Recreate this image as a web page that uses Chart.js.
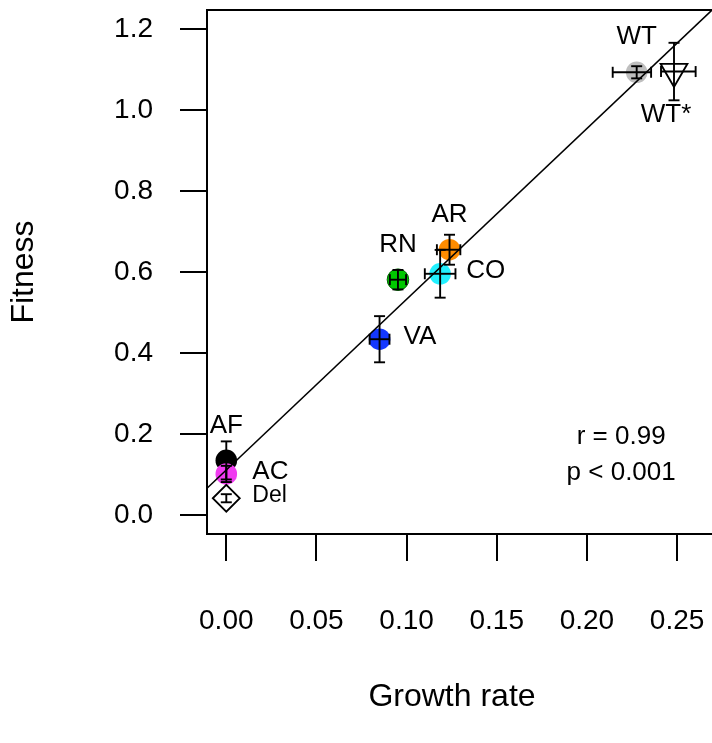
<!DOCTYPE html>
<html>
<head>
<meta charset="utf-8">
<title>Fitness vs growth rate</title>
<script src="https://cdn.jsdelivr.net/npm/chart.js@4.4.1/dist/chart.umd.min.js"></script>
<style>
  html, body { margin: 0; padding: 0; background: #fff; overflow: hidden; }
  #wrap { width: 740px; height: 743px; }
</style>
</head>
<body>
<div id="wrap"><canvas id="chart" width="740" height="743"></canvas></div>
<script>
// Data
const STRAINS = ['WT', 'WT*', 'AR', 'CO', 'RN', 'VA', 'AF', 'AC', 'Del'];
const GROWTH = [0.2276, 0.2483, 0.1238, 0.1186, 0.0952, 0.0850, 0.0, 0.0, 0.0];
const GROWTH_ERR_LO = [0.0133, 0.0072, 0.0070, 0.0085, 0.0045, 0.0055, 0, 0, 0];
const GROWTH_ERR_HI = [0.0080, 0.0120, 0.0060, 0.0085, 0.0045, 0.0055, 0, 0, 0];
const FITNESS = [1.0932, 1.0950, 0.6550, 0.5956, 0.5810, 0.4340, 0.1347, 0.1013, 0.0413];
const FITNESS_ERR = [0.015, 0.071, 0.037, 0.059, 0.024, 0.057, 0.047, 0.020, 0.010];

// Regression line and stats
const FIT_INTERCEPT = 0.1111;
const FIT_SLOPE = 4.216;
const STATS_TEXT = ['r = 0.99', 'p < 0.001'];

// Axes
const X_TICKS = [0, 0.05, 0.10, 0.15, 0.20, 0.25];
const Y_TICKS = [0, 0.2, 0.4, 0.6, 0.8, 1.0, 1.2];
const X_MIN = -0.0107, X_MAX = 0.2727;
const Y_MIN = -0.047, Y_MAX = 1.247;

// Look
const FONT = "'Liberation Sans', Arial, sans-serif";
const COLORS = ['#bebebe', '#ffffff', '#ff8c00', '#22f0ff', '#00c800', '#1438ff', '#000000', '#f03cf0', '#ffffff'];
const SHAPES = ['circle', 'triangle', 'circle', 'circle', 'circle', 'circle', 'circle', 'circle', 'rectRot'];
const SIZES = [10.8, 15.5, 10.8, 10.8, 10.8, 10.8, 10.8, 10.8, 13.5];
const ROTATIONS = [0, 180, 0, 0, 0, 0, 0, 0, 0];
const BORDERS = [0, 1.8, 0, 0, 1, 0, 0, 0, 1.8];
const BORDER_COLORS = ['#000', '#000', '#000', '#000', '#006400', '#000', '#000', '#000', '#000'];
// label placement relative to the point: [dx, dy, align, font size]
const LABEL_POS = [
    [0, -35, 'center', 26], [-8, 43, 'center', 26], [0, -35, 'center', 26],
    [26, -3, 'left', 26], [0, -35, 'center', 26], [24, -2, 'left', 26],
    [0, -35, 'center', 26], [26, -2, 'left', 26], [26, -3, 'left', 23]
];
const CAP = 5.5;

// Barre d'errore orizzontali e verticali
const errorBars = {
    id: 'errorBars',
    afterDatasetsDraw(chart) {
        const { ctx, scales: { x, y } } = chart;
        const seg = (x0, y0, x1, y1) => {
            ctx.beginPath(); ctx.moveTo(x0, y0); ctx.lineTo(x1, y1); ctx.stroke();
        };
        ctx.save();
        ctx.strokeStyle = '#000';
        ctx.lineWidth = 1.9;
        GROWTH.forEach((gx, i) => {
            const px = x.getPixelForValue(gx);
            const py = y.getPixelForValue(FITNESS[i]);
            if (FITNESS_ERR[i] > 0) {
                const y0 = y.getPixelForValue(FITNESS[i] - FITNESS_ERR[i]);
                const y1 = y.getPixelForValue(FITNESS[i] + FITNESS_ERR[i]);
                seg(px, y0, px, y1);
                seg(px - CAP, y0, px + CAP, y0);
                seg(px - CAP, y1, px + CAP, y1);
            }
            if (GROWTH_ERR_LO[i] > 0 || GROWTH_ERR_HI[i] > 0) {
                const x0 = x.getPixelForValue(gx - GROWTH_ERR_LO[i]);
                const x1 = x.getPixelForValue(gx + GROWTH_ERR_HI[i]);
                seg(x0, py, x1, py);
                seg(x0, py - CAP, x0, py + CAP);
                seg(x1, py - CAP, x1, py + CAP);
            }
        });
        ctx.restore();
    }
};

// Etichette dei ceppi, box, statistiche e titolo asse x
const annotations = {
    id: 'annotations',
    afterDraw(chart) {
        const { ctx, chartArea: a, scales: { x, y } } = chart;
        ctx.save();
        ctx.fillStyle = '#000';
        ctx.textBaseline = 'middle';
        STRAINS.forEach((name, i) => {
            const [dx, dy, align, size] = LABEL_POS[i];
            ctx.font = `${size}px ${FONT}`;
            ctx.textAlign = align;
            ctx.fillText(name, x.getPixelForValue(GROWTH[i]) + dx, y.getPixelForValue(FITNESS[i]) + dy);
        });

        ctx.font = `26px ${FONT}`;
        ctx.textAlign = 'center';
        ctx.fillText(STATS_TEXT[0], x.getPixelForValue(0.219), y.getPixelForValue(0.193));
        ctx.fillText(STATS_TEXT[1], x.getPixelForValue(0.219), y.getPixelForValue(0.105));

        ctx.font = `32px ${FONT}`;
        ctx.textBaseline = 'alphabetic';
        ctx.fillText('Growth rate', a.left + 245, 706);

        ctx.strokeStyle = '#000';
        ctx.lineWidth = 2;
        ctx.strokeRect(a.left, a.top, a.right - a.left, a.bottom - a.top);
        ctx.restore();
    }
};

const tickFont = { family: FONT, size: 28 };

// niente padding extra per le etichette ai bordi
const fixX = s => { s.height = 209; s.paddingLeft = 0; s.paddingRight = 0; };
const fixY = s => { s.width = 207; s.paddingTop = 0; s.paddingBottom = 0; };

new Chart(document.getElementById('chart'), {
    type: 'scatter',
    data: {
        datasets: [
            {
                type: 'line',
                data: [X_MIN, X_MAX].map(v => ({ x: v, y: FIT_INTERCEPT + FIT_SLOPE * v })),
                borderColor: '#000',
                borderWidth: 1.6,
                pointRadius: 0,
                order: 0
            },
            {
                data: GROWTH.map((g, i) => ({ x: g, y: FITNESS[i] })),
                pointStyle: SHAPES,
                pointRadius: SIZES,
                pointRotation: ROTATIONS,
                pointBackgroundColor: COLORS,
                pointBorderColor: BORDER_COLORS,
                pointBorderWidth: BORDERS,
                order: 1
            }
        ]
    },
    options: {
        responsive: false,
        animation: false,
        events: [],
        layout: { autoPadding: false, padding: { top: 10, right: 22, left: 0, bottom: 0 } },
        plugins: { legend: { display: false }, tooltip: { enabled: false } },
        scales: {
            x: {
                type: 'linear',
                min: X_MIN,
                max: X_MAX,
                afterBuildTicks: s => { s.ticks = X_TICKS.map(v => ({ value: v })); },
                afterFit: fixX,
                border: { display: false },
                grid: { drawOnChartArea: false, tickLength: 27, color: '#000', lineWidth: 2 },
                ticks: {
                    font: tickFont, color: '#000', padding: 43,
                    maxRotation: 0, autoSkip: false,
                    callback: v => v.toFixed(2)
                }
            },
            y: {
                type: 'linear',
                min: Y_MIN,
                max: Y_MAX,
                afterBuildTicks: s => { s.ticks = Y_TICKS.map(v => ({ value: v })); },
                afterFit: fixY,
                border: { display: false },
                grid: { drawOnChartArea: false, tickLength: 27, color: '#000', lineWidth: 2 },
                ticks: {
                    font: tickFont, color: '#000', padding: 27,
                    autoSkip: false,
                    callback: v => v.toFixed(1)
                },
                title: {
                    display: true, text: 'Fitness', color: '#000',
                    font: { family: FONT, size: 32 }, padding: { top: 5, bottom: 0 }
                }
            }
        }
    },
    plugins: [errorBars, annotations]
});
</script>
</body>
</html>
